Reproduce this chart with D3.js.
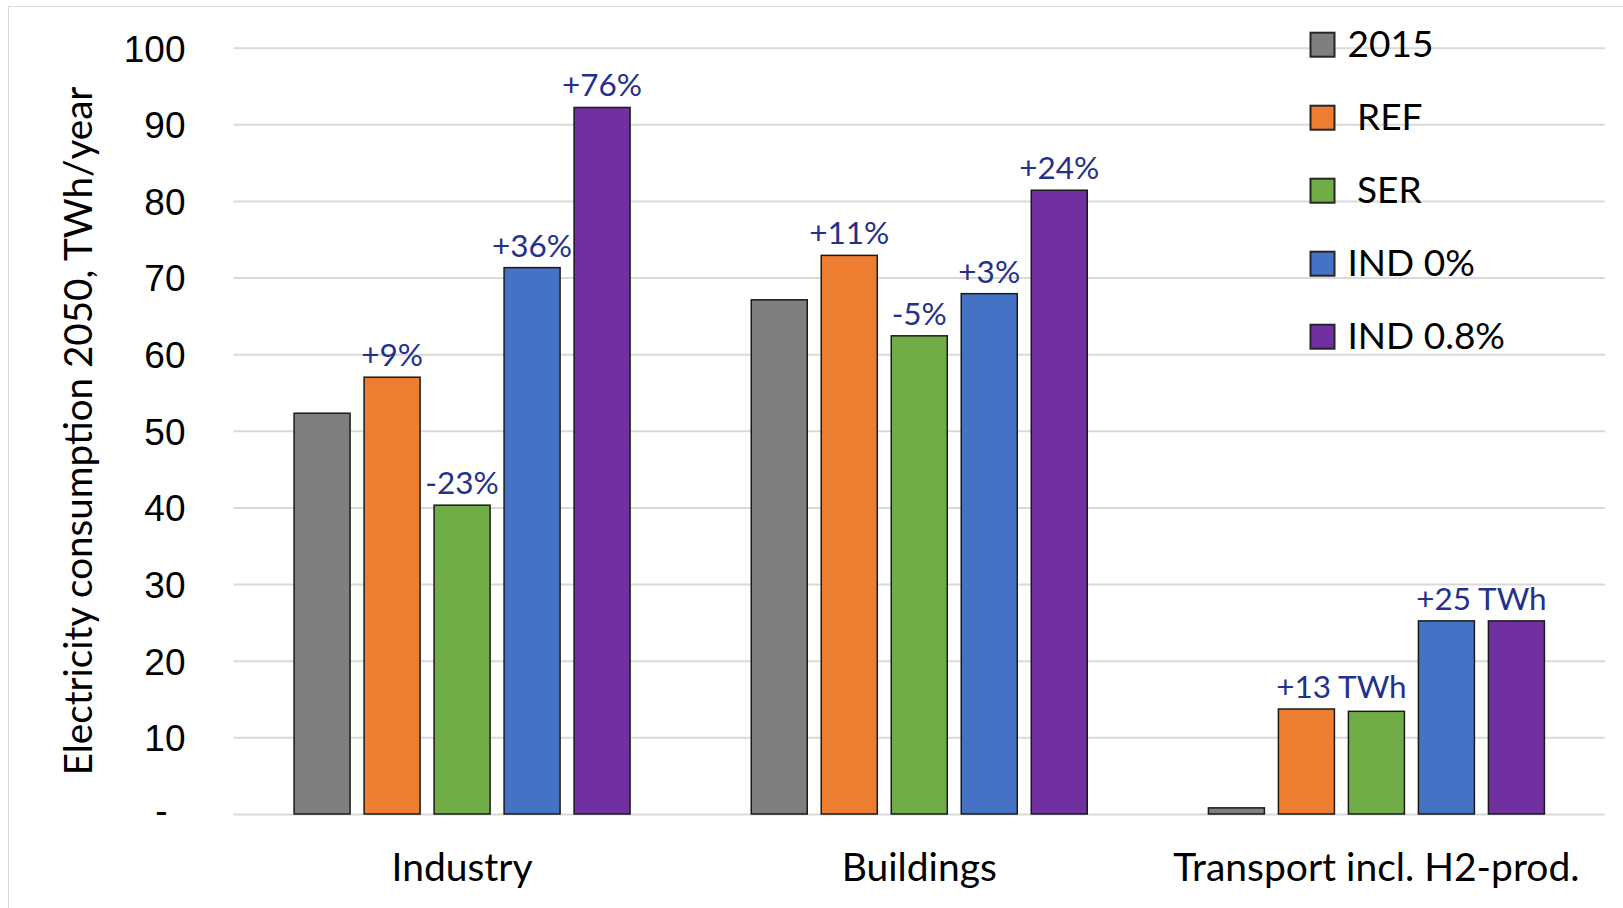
<!DOCTYPE html>
<html>
<head>
<meta charset="utf-8">
<script src="https://cdn.jsdelivr.net/npm/d3@7"></script>
<style>
  html, body { margin: 0; padding: 0; background: #fff; }
  svg { display: block; font-family: Lato, "Open Sans", sans-serif; }
</style>
</head>
<body>
<svg id="chart" width="1623" height="908"></svg>
<script>
// Electricity consumption by sector: 2015 vs. 2050 scenarios (TWh/year)
const categories = ["Industry", "Buildings", "Transport incl. H2-prod."];
const series = ["2015", "REF", "SER", "IND 0%", "IND 0.8%"];
const legendLabels = ["2015", " REF", " SER", "IND 0%", "IND 0.8%"];
const colors = ["#7F7F7F", "#ED7D31", "#70AD47", "#4472C4", "#7030A0"];

const values2015   = [52.3, 67.1, 0.8];
const valuesREF    = [57.0, 72.9, 13.7];
const valuesSER    = [40.3, 62.4, 13.4];
const valuesIND0   = [71.3, 67.9, 25.2];
const valuesIND08  = [92.2, 81.4, 25.2];
const seriesValues = [values2015, valuesREF, valuesSER, valuesIND0, valuesIND08];

const yTicks = [0, 10, 20, 30, 40, 50, 60, 70, 80, 90, 100];

// Change labels: category, the bars they sit over, text
const changeLabels = [
  { cat: "Industry",  over: ["REF"],      text: "+9%" },
  { cat: "Industry",  over: ["SER"],      text: "-23%" },
  { cat: "Industry",  over: ["IND 0%"],   text: "+36%" },
  { cat: "Industry",  over: ["IND 0.8%"], text: "+76%" },
  { cat: "Buildings", over: ["REF"],      text: "+11%" },
  { cat: "Buildings", over: ["SER"],      text: "-5%" },
  { cat: "Buildings", over: ["IND 0%"],   text: "+3%" },
  { cat: "Buildings", over: ["IND 0.8%"], text: "+24%" },
  { cat: "Transport incl. H2-prod.", over: ["REF", "SER"],           text: "+13 TWh" },
  { cat: "Transport incl. H2-prod.", over: ["IND 0%", "IND 0.8%"],   text: "+25 TWh" }
];

const rows = [];
categories.forEach((c, ci) => series.forEach((s, si) => {
  rows.push({ cat: c, series: s, value: seriesValues[si][ci], color: colors[si] });
}));
const valueOf = (c, s) => seriesValues[series.indexOf(s)][categories.indexOf(c)];

const svg = d3.select("#chart");
const plot = { left: 233.5, right: 1605, top: 47.7, bottom: 814 };

// chart area frame
svg.append("rect")
  .attr("x", 8.5).attr("y", 6.5).attr("width", 1700).attr("height", 1000)
  .attr("fill", "none").attr("stroke", "#D9D9D9").attr("stroke-width", 1);

const y = d3.scaleLinear().domain([0, 100]).range([plot.bottom, plot.top]);
const x0 = d3.scaleBand().domain(categories).range([plot.left, plot.right]).padding(0);
const x1 = d3.scaleBand().domain(series).range([-168, 168]).paddingInner(0.2);

// value axis with gridlines
const yAxis = svg.append("g")
  .attr("transform", `translate(${plot.left},0)`)
  .call(d3.axisLeft(y)
    .tickValues(yTicks)
    .tickSize(-(plot.right - plot.left))
    .tickPadding(48)
    .tickFormat(d => d === 0 ? "-" : d3.format("d")(d)));
yAxis.select(".domain").remove();
yAxis.selectAll(".tick line").attr("stroke", "#D9D9D9").attr("stroke-width", 2);
yAxis.selectAll(".tick text")
  .attr("fill", "#000").attr("font-size", 37).attr("dy", "0.36em");
yAxis.selectAll(".tick text").filter(d => d === 0).attr("x", -66).attr("dy", "0.24em");

// axis title
svg.append("text")
  .attr("transform", "translate(92,431) rotate(-90)")
  .attr("text-anchor", "middle")
  .attr("font-size", 38.6)
  .attr("fill", "#000")
  .text("Electricity consumption 2050, TWh/year");

// bars
svg.append("g").selectAll("rect")
  .data(rows)
  .join("rect")
  .attr("x", d => x0(d.cat) + x0.bandwidth() / 2 + x1(d.series))
  .attr("y", d => y(d.value))
  .attr("width", x1.bandwidth())
  .attr("height", d => y(0) - y(d.value))
  .attr("fill", d => d.color)
  .attr("stroke", "#1a1a1a")
  .attr("stroke-width", 1.5);

// category labels
svg.append("g").selectAll("text")
  .data(categories)
  .join("text")
  .attr("x", d => x0(d) + x0.bandwidth() / 2)
  .attr("y", 881)
  .attr("text-anchor", "middle")
  .attr("font-size", 39)
  .attr("fill", "#000")
  .text(d => d);

// change labels above bars
svg.append("g").selectAll("text")
  .data(changeLabels)
  .join("text")
  .attr("x", d => {
    const cs = d.over.map(s => x0(d.cat) + x0.bandwidth() / 2 + x1(s) + x1.bandwidth() / 2);
    return d3.mean(cs);
  })
  .attr("y", d => y(d3.max(d.over, s => valueOf(d.cat, s))) - 11)
  .attr("text-anchor", "middle")
  .attr("font-size", 31.5)
  .attr("fill", "#23318C")
  .text(d => d.text);

// legend
const legend = svg.append("g").attr("transform", "translate(1310.5,44.7)");
const item = legend.selectAll("g")
  .data(series)
  .join("g")
  .attr("transform", (d, i) => `translate(0,${i * 73})`);
item.append("rect")
  .attr("x", 0).attr("y", -12).attr("width", 24).attr("height", 24)
  .attr("fill", (d, i) => colors[i])
  .attr("stroke", "#262626").attr("stroke-width", 2);
item.append("text")
  .attr("x", 37).attr("y", 12.5)
  .attr("font-size", 37)
  .attr("fill", "#000")
  .style("white-space", "pre")
  .text((d, i) => legendLabels[i]);
</script>
</body>
</html>
